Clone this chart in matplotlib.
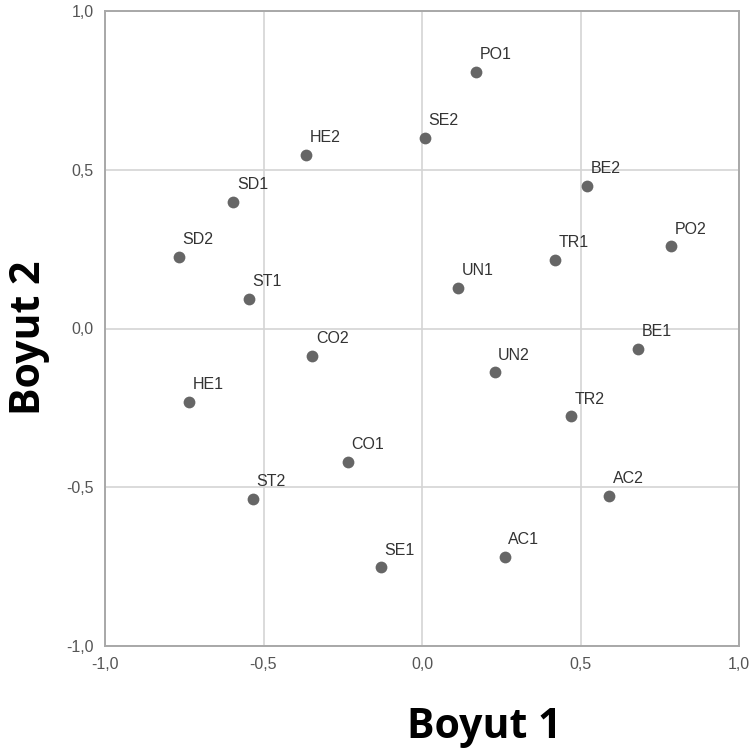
import matplotlib.pyplot as plt
from matplotlib.ticker import FuncFormatter

# koordinatlar (Boyut 1, Boyut 2)
labels = ['PO1', 'SE2', 'HE2', 'SD1', 'SD2', 'ST1', 'BE2', 'PO2', 'TR1', 'UN1',
          'BE1', 'CO2', 'UN2', 'HE1', 'TR2', 'CO1', 'ST2', 'AC2', 'SE1', 'AC1']
dim1 = [0.171, 0.010, -0.366, -0.595, -0.767, -0.545, 0.521, 0.786, 0.419, 0.114,
        0.682, -0.346, 0.229, -0.735, 0.471, -0.235, -0.534, 0.591, -0.129, 0.261]
dim2 = [0.809, 0.600, 0.547, 0.400, 0.225, 0.094, 0.450, 0.259, 0.217, 0.129,
        -0.063, -0.087, -0.138, -0.230, -0.277, -0.421, -0.537, -0.527, -0.752, -0.720]
ticks = [-1.0, -0.5, 0.0, 0.5, 1.0]

plt.rcParams['font.family'] = ['Liberation Sans', 'DejaVu Sans']

fig = plt.figure(figsize=(7.53, 7.55), dpi=100)
ax = fig.add_axes([105 / 753, 1 - 646 / 755, 634 / 753, 635 / 755])

ax.scatter(dim1, dim2, s=72, color='#666666', zorder=3, linewidths=0)
for lab, x, y in zip(labels, dim1, dim2):
    ax.annotate(lab, (x, y), xytext=(2.5, 7), textcoords='offset points',
                fontsize=11.5, color='#333333', ha='left', va='bottom')

ax.set_xlim(-1, 1)
ax.set_ylim(-1, 1)
ax.set_xticks(ticks)
ax.set_yticks(ticks)
fmt = FuncFormatter(lambda v, p: f'{v:.1f}'.replace('.', ','))
ax.xaxis.set_major_formatter(fmt)
ax.yaxis.set_major_formatter(fmt)
ax.tick_params(length=0, labelsize=11.5, labelcolor='#555555', pad=8)
ax.grid(True, color='#d4d4d4', linewidth=1.2)
ax.set_axisbelow(True)
for sp in ax.spines.values():
    sp.set_color('#a8a8a8')
    sp.set_linewidth(1.4)

fig.text(484 / 753, 1 - 728 / 755, 'Boyut 1', fontsize=29.5, fontweight='bold',
         family='Open Sans', ha='center', va='center')
fig.text(29 / 753, 1 - 338 / 755, 'Boyut 2', fontsize=29.5, fontweight='bold',
         family='Open Sans', ha='center', va='center', rotation=90)

fig.savefig('out.png', dpi=100)
